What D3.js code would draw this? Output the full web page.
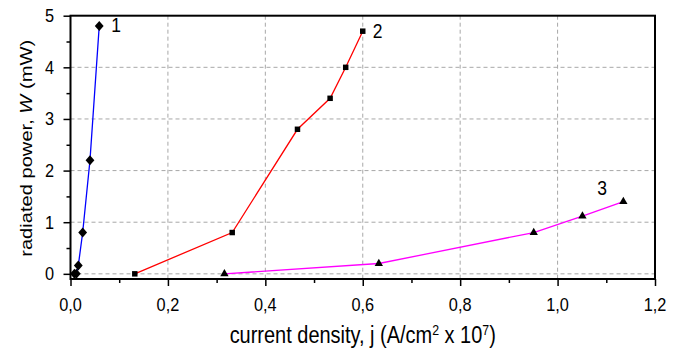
<!DOCTYPE html>
<html><head><meta charset="utf-8">
<script src="https://cdn.jsdelivr.net/npm/d3@7"></script>
<style>body{margin:0;background:#fff}svg{display:block;font-family:"Liberation Sans",Arial,sans-serif}</style>
</head><body><svg id="c" width="686" height="352"></svg>
<script>
const s1j=[0.008,0.012,0.016,0.025,0.040,0.059];
const s1w=[0,0,0.16,0.8,2.2,4.8];
const s2j=[0.132,0.332,0.466,0.533,0.565,0.600];
const s2w=[0,0.8,2.8,3.4,4.0,4.7];
const s3j=[0.316,0.633,0.951,1.051,1.135];
const s3w=[0,0.2,0.8,1.12,1.4];
const xTicks=[0,0.2,0.4,0.6,0.8,1.0,1.2];
const yTicks=[0,1,2,3,4,5];
const seriesLabels=["1","2","3"];

const svg=d3.select("#c");
const L=70.5,R=655,T=15.7,B=279;
const SY=1.16; // vertical glyph stretch
const x=d3.scaleLinear().domain([0,1.2]).range([L,R]);
const y=d3.scaleLinear().domain([-0.1,5]).range([B,T]);
const fmt=d=>d3.format(".1f")(d).replace(".",",");

function txt(px,py,str,size,anchor,extra){
  const t=svg.append("text").attr("transform",`translate(${px},${py}) scale(1,${SY})${extra||""}`)
   .attr("font-size",size).attr("text-anchor",anchor||"start").attr("fill","#000");
  if(str!==null) t.text(str);
  return t;
}

// grid
const g=svg.append("g");
g.selectAll(".vg").data(xTicks.filter(d=>d>0&&d<1.2)).join("line")
 .attr("x1",d=>x(d)).attr("x2",d=>x(d)).attr("y1",T).attr("y2",B)
 .attr("stroke","#a8a8a8").attr("stroke-dasharray","4,3").attr("stroke-width",1);
g.selectAll(".hg").data(yTicks.filter(d=>d<5)).join("line")
 .attr("y1",d=>y(d)).attr("y2",d=>y(d)).attr("x1",L).attr("x2",R)
 .attr("stroke","#a8a8a8").attr("stroke-dasharray","4,3").attr("stroke-width",1);

// axes (ticks)
const xa=svg.append("g").attr("transform",`translate(0,${B})`)
 .call(d3.axisBottom(x).tickValues(xTicks).tickFormat("").tickSize(7));
const xm=svg.append("g").attr("transform",`translate(0,${B})`)
 .call(d3.axisBottom(x).tickValues(d3.range(0.1,1.2,0.2)).tickFormat("").tickSize(4));
const ya=svg.append("g").attr("transform",`translate(${L},0)`)
 .call(d3.axisLeft(y).tickValues(yTicks).tickFormat("").tickSize(7));
const ym=svg.append("g").attr("transform",`translate(${L},0)`)
 .call(d3.axisLeft(y).tickValues([0.5,1.5,2.5,3.5,4.5]).tickFormat("").tickSize(4));
[xa,xm,ya,ym].forEach(a=>{a.select(".domain").remove();a.selectAll("line").attr("stroke","#000").attr("stroke-width",1.5);});

// tick labels
xTicks.forEach(d=>txt(x(d),311,fmt(d),16.3,"middle"));
yTicks.forEach(d=>txt(54,y(d)+5.6*SY,String(d),16.3,"end"));

// frame
svg.append("rect").attr("x",L).attr("y",T).attr("width",R-L).attr("height",B-T)
 .attr("fill","none").attr("stroke","#000").attr("stroke-width",2);

// series
const diamond={draw(ctx,size){const w=4.4,h=5;ctx.moveTo(0,-h);ctx.lineTo(w,0);ctx.lineTo(0,h);ctx.lineTo(-w,0);ctx.closePath();}};
const line=d3.line().x(d=>x(d[0])).y(d=>y(d[1]));
const mk=(js,ws)=>js.map((j,i)=>[j,ws[i]]);
const data=[{p:mk(s1j,s1w),c:"#0000ff",sym:diamond,sz:40},
 {p:mk(s2j,s2w),c:"#ff0000",sym:d3.symbolSquare,sz:30},
 {p:mk(s3j,s3w),c:"#ff00ff",sym:d3.symbolTriangle,sz:30}];
data.forEach(s=>{
 svg.append("path").attr("d",line(s.p)).attr("fill","none").attr("stroke",s.c).attr("stroke-width",1.3);
 svg.selectAll(null).data(s.p).join("path")
  .attr("transform",d=>`translate(${x(d[0])},${y(d[1])})`)
  .attr("d",d3.symbol().type(s.sym).size(s.sz)).attr("fill","#000");
});

// series labels
const lab=[[s1j[5],s1w[5],12,6],[s2j[5],s2w[5],10,7],[s3j[4],s3w[4],-26,-7]];
lab.forEach((l,i)=>txt(x(l[0])+l[2],y(l[1])+l[3],seriesLabels[i],17.5,"start"));

// axis titles
const xt=txt((L+R)/2,343,null,17,"middle");
xt.append("tspan").text("current density, j (A/cm");
xt.append("tspan").attr("dy",-7).attr("font-size",11).text("2");
xt.append("tspan").attr("dy",7).text(" x 10");
xt.append("tspan").attr("dy",-7).attr("font-size",11).text("7");
xt.append("tspan").attr("dy",7).text(")");
const yt=txt(32,(T+B)/2+1,null,17,"middle"," rotate(-90)");
yt.attr("transform",`translate(32,${(T+B)/2+1}) scale(1,${SY}) rotate(-90)`);
yt.append("tspan").text("radiated power, ");
yt.append("tspan").attr("font-style","italic").text("W");
yt.append("tspan").text(" (mW)");
// fit title widths to the reference
function fit(t,target){const w=t.node().getComputedTextLength();const f=17*target/w;
 t.attr("font-size",f);t.selectAll("tspan").filter(function(){return this.getAttribute("font-size")}).attr("font-size",f*0.62);}
fit(xt,267);
fit(yt,217/SY);
</script></body></html>
